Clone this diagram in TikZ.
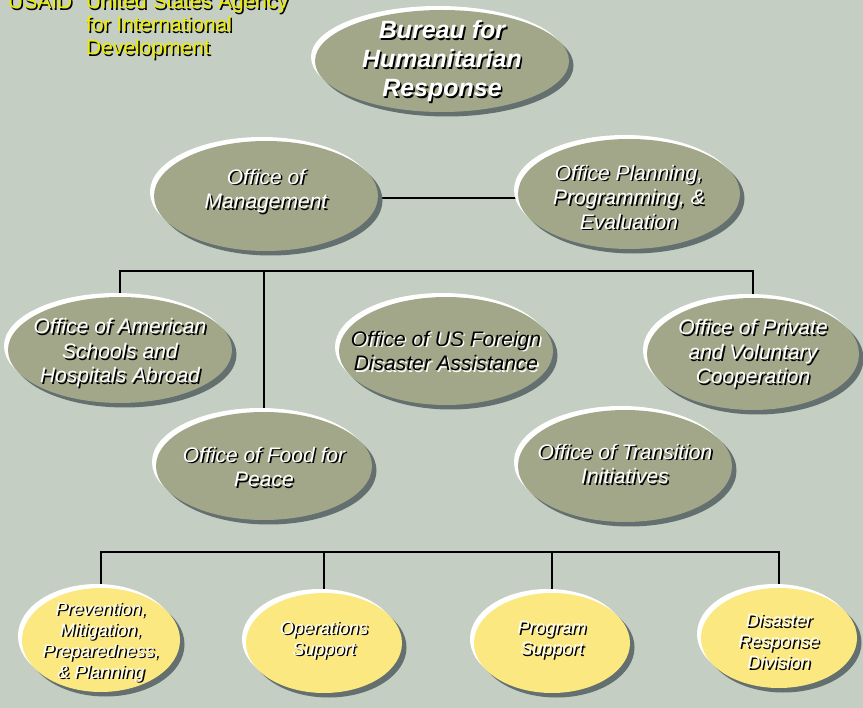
\documentclass[tikz,border=0pt]{standalone}
\usepackage{fontspec}
\setmainfont{Liberation Sans}
\usetikzlibrary{shapes.geometric,calc}
\definecolor{bgc}{RGB}{196,206,194}
\definecolor{olive}{RGB}{161,167,136}
\definecolor{shad}{RGB}{100,111,111}
\definecolor{yel}{RGB}{251,232,128}
\definecolor{usaidy}{RGB}{236,236,0}
\pgfdeclarelayer{bg}
\pgfsetlayers{bg,main}
% #1 name, #2 x, #3 y, #4 rx, #5 ry, #6 fill
\newcommand\orgoval[6]{%
  \fill[shad] (#2+4.5,#3+4.5) ellipse [x radius=#4pt, y radius=#5pt];
  \fill[white] (#2-4,#3-4) ellipse [x radius=#4pt, y radius=#5pt];
  \node[orgshape, fill=#6, minimum width={2*#4pt}, minimum height={2*#5pt}] (#1) at (#2,#3) {};
}
% #1 name, #2 node, #3 dy (down), #4 font style, #5 text colour, #6 shadow colour, #7 text
\newcommand\shlabel[7]{%
  \node[lab, #4, text=#6] (#1-s) at ([xshift=1.6pt, yshift={-(#3)*1pt-1.6pt}]#2.center) {#7};
  \node[lab, #4, text=#5] (#1) at ([yshift={-(#3)*1pt}]#2.center) {#7};
}
\tikzset{
  orgshape/.style={ellipse, inner sep=0pt, draw=none},
  conn/.style={line width=2.6pt, black},
  lab/.style={align=center, inner sep=0pt},
  big/.style={font=\bfseries\itshape\fontsize{25}{29}\selectfont},
  mid/.style={font=\itshape\fontsize{21}{24.5}\selectfont},
  small/.style={font=\itshape\fontsize{18}{21}\selectfont},
  agency/.style={anchor=base west, inner sep=0pt, font=\fontsize{21}{23}\selectfont},
}
\begin{document}
\begin{tikzpicture}[x=1pt, y=-1pt]
\useasboundingbox (0,0) rectangle (863,708);

% USAID heading
\node[agency, text=black] (usaid-s) at (9.5,10.5) {USAID};
\node[agency, text=usaidy] (usaid) at (8,9) {USAID};
\node[agency, text=black] (ag1-s) at (87.5,10.5) {United States Agency};
\node[agency, text=usaidy] (ag1) at (86,9) {United States Agency};
\node[agency, text=black] (ag2-s) at (87.5,33.5) {for International};
\node[agency, text=usaidy] (ag2) at (86,32) {for International};
\node[agency, text=black] (ag3-s) at (87.5,56.5) {Development};
\node[agency, text=usaidy] (ag3) at (86,55) {Development};

% ovals
\orgoval{bureau}{442}{61}{127}{51}{olive}
\orgoval{mgmt}{266}{196}{112}{55}{olive}
\orgoval{plan}{629}{194}{111}{55}{olive}
\orgoval{schools}{120}{350}{112}{53}{olive}
\orgoval{usfda}{446}{351}{107}{54}{olive}
\orgoval{private}{753}{354}{106}{56}{olive}
\orgoval{food}{264}{466}{108}{54}{olive}
\orgoval{trans}{625}{466}{107}{56}{olive}
\orgoval{prev}{101}{640}{79}{52}{yel}
\orgoval{ops}{324}{643}{78}{50}{yel}
\orgoval{prog}{552}{643}{78}{50}{yel}
\orgoval{drd}{779}{638}{78}{50}{yel}

% labels
\shlabel{bureau-t}{bureau}{0}{big}{white}{black}{Bureau for\\Humanitarian\\Response}
\shlabel{mgmt-t}{mgmt}{-5}{mid}{white}{black}{Office of\\Management}
\shlabel{plan-t}{plan}{3}{mid}{white}{black}{Office Planning,\\Programming, \&\\Evaluation}
\shlabel{schools-t}{schools}{3}{mid}{white}{black}{Office of American\\Schools and\\Hospitals Abroad}
\shlabel{usfda-t}{usfda}{0}{mid}{black}{white}{Office of US Foreign\\Disaster Assistance}
\shlabel{private-t}{private}{0}{mid}{white}{black}{Office of Private\\and Voluntary\\Cooperation}
\shlabel{food-t}{food}{1}{mid}{white}{black}{Office of Food for\\Peace}
\shlabel{trans-t}{trans}{-2}{mid}{white}{black}{Office of Transition\\Initiatives}
\shlabel{prev-t}{prev}{2}{small}{white}{black}{Prevention,\\Mitigation,\\Preparedness,\\\& Planning}
\shlabel{ops-t}{ops}{-3}{small}{white}{black}{Operations\\Support}
\shlabel{prog-t}{prog}{-3}{small}{white}{black}{Program\\Support}
\shlabel{drd-t}{drd}{3}{small}{white}{black}{Disaster\\Response\\Division}

\begin{pgfonlayer}{bg}
  \fill[bgc] (0,0) rectangle (863,708);
  \coordinate (busA) at (0,198);
  \coordinate (busB) at (0,271);
  \coordinate (busC) at (0,552);
  \draw[conn] (mgmt.center |- busA) -- (plan.center |- busA);
  \draw[conn] (schools.north) -- (schools.north |- busB) -- (private.north |- busB) -- (private.north);
  \draw[conn] (food.north) -- (food.north |- busB);
  \draw[conn] (prev.north) -- (prev.north |- busC) -- (drd.north |- busC) -- (drd.north);
  \draw[conn] (ops.north) -- (ops.north |- busC);
  \draw[conn] (prog.north) -- (prog.north |- busC);
\end{pgfonlayer}
\end{tikzpicture}
\end{document}
